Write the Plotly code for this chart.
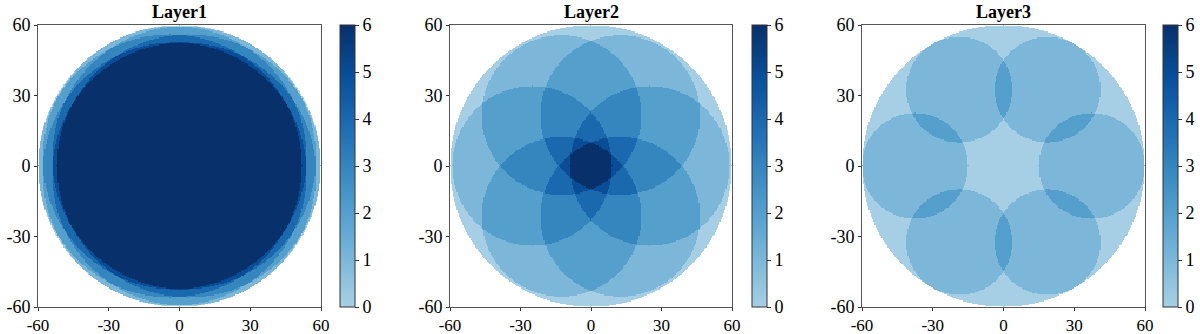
import numpy as np
import plotly.graph_objects as go

# Layer geometry: six circles per layer, placed at these angles (degrees)
titles = ["Layer1", "Layer2", "Layer3"]
circle_angles = [0, 60, 120, 180, 240, 300]
center_dist = [4.0, 25.0, 37.5]     # distance of circle centres from origin
circle_radius = [56.0, 34.0, 22.5]  # radius of each circle
domain_radius = 60.0
tick_vals = [-60, -30, 0, 30, 60]
tick_text = ["-60", "-30", "0", "30", "60"]
cbar_ticks = [0, 1, 2, 3, 4, 5, 6]

grid = np.arange(-60, 60.25, 0.5)

# Truncated "Blues" map
colorscale = [
    [0.0, "#a6cee4"],
    [0.0385, "#9ecae1"],
    [0.2308, "#6baed6"],
    [0.4231, "#4292c6"],
    [0.6154, "#2171b5"],
    [0.8077, "#08519c"],
    [1.0, "#08306b"],
]


def coverage(dist: float, radius: float) -> np.ndarray:
    """Count how many circles cover each grid cell; NaN outside the domain."""
    xx, yy = np.meshgrid(grid, grid)
    count = np.zeros_like(xx)
    for ang in circle_angles:
        cx = dist * np.cos(np.radians(ang))
        cy = dist * np.sin(np.radians(ang))
        count += ((xx - cx) ** 2 + (yy - cy) ** 2 <= radius**2).astype(float)
    count[xx**2 + yy**2 > domain_radius**2] = np.nan
    return count


font = dict(family="Liberation Serif, Times New Roman, serif", size=17, color="black")

W, H = 1200, 334
plot_x = [(38, 321), (450, 732), (862, 1145)]
cbar_x = [340, 752, 1163]
y0, y1 = 1 - 307 / H, 1 - 25 / H

fig = go.Figure()
layout = dict(
    width=W,
    height=H,
    margin=dict(l=0, r=0, t=0, b=0, autoexpand=False),
    paper_bgcolor="white",
    plot_bgcolor="white",
    font=font,
    showlegend=False,
    annotations=[],
)

for i in range(3):
    z = coverage(center_dist[i], circle_radius[i])
    suffix = "" if i == 0 else str(i + 1)
    fig.add_trace(
        go.Heatmap(
            x=grid,
            y=grid,
            z=z,
            zmin=0,
            zmax=6,
            colorscale=colorscale,
            xaxis="x" + suffix,
            yaxis="y" + suffix,
            hoverongaps=False,
            colorbar=dict(
                x=cbar_x[i] / W,
                xanchor="left",
                xpad=0,
                ypad=0,
                y=(y0 + y1) / 2,
                yanchor="middle",
                len=y1 - y0,
                lenmode="fraction",
                thickness=15,
                thicknessmode="pixels",
                outlinecolor="#333333",
                outlinewidth=1,
                tickvals=cbar_ticks,
                ticks="outside",
                ticklen=4,
                tickcolor="#333333",
                tickfont=dict(font, size=18),
            ),
        )
    )
    axis_common = dict(
        range=[-60, 60],
        tickvals=tick_vals,
        ticktext=tick_text,
        ticks="outside",
        ticklen=3,
        tickcolor="#333333",
        showline=True,
        linecolor="#555555",
        linewidth=1,
        mirror=True,
        showgrid=False,
        zeroline=False,
        tickfont=font,
    )
    layout["xaxis" + suffix] = dict(
        axis_common,
        domain=[plot_x[i][0] / W, plot_x[i][1] / W],
        anchor="y" + suffix,
    )
    layout["yaxis" + suffix] = dict(
        axis_common,
        domain=[y0, y1],
        anchor="x" + suffix,
        tickfont=dict(font, size=18),
    )
    layout["annotations"].append(
        dict(
            text="<b>" + titles[i] + "</b>",
            x=(plot_x[i][0] + plot_x[i][1]) / 2 / W,
            y=1 - 12 / H,
            xref="paper",
            yref="paper",
            xanchor="center",
            yanchor="middle",
            showarrow=False,
            font=dict(font, size=18),
        )
    )

fig.update_layout(layout)
# drop the default page margin so the figure sits at the window's corner
fig.write_html(
    "out.html",
    config={"displayModeBar": False},
    post_script="document.body.style.margin='0';",
)
